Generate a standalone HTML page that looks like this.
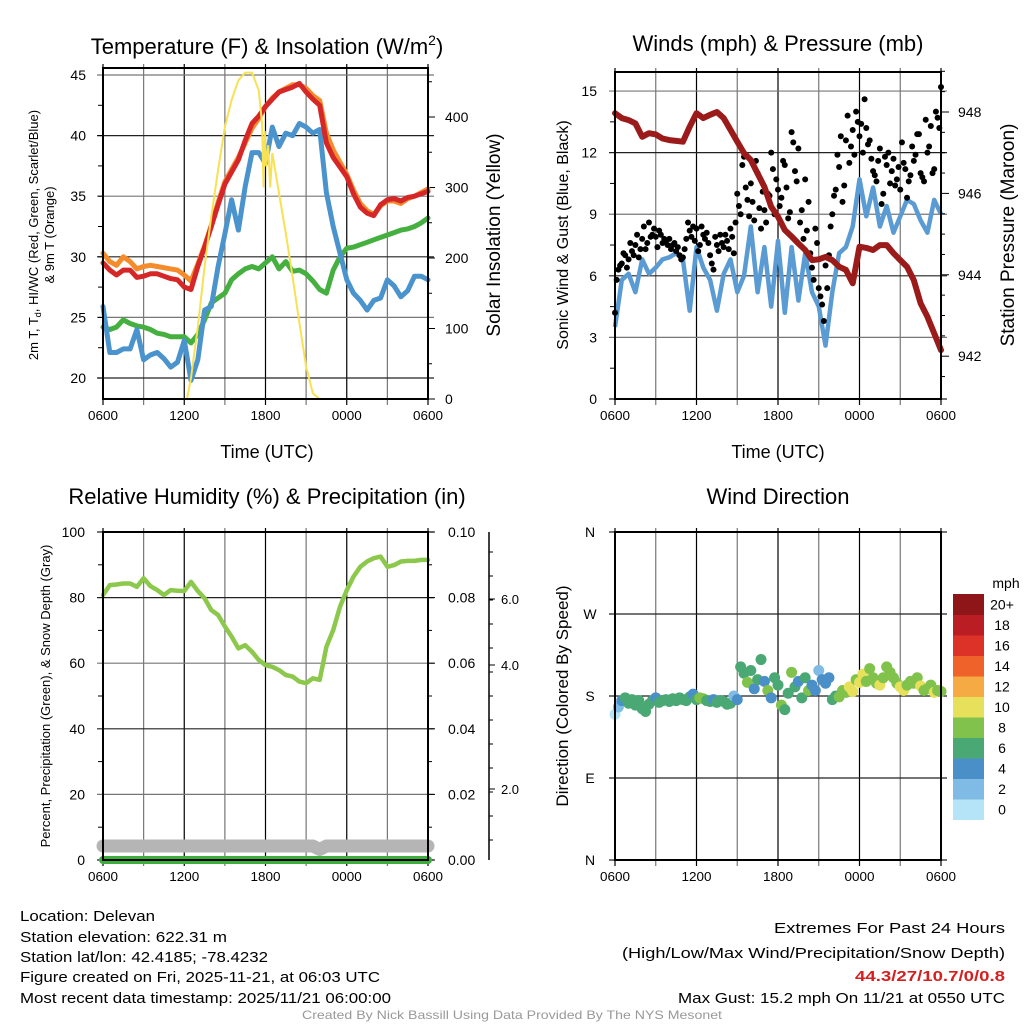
<!DOCTYPE html>
<html><head><meta charset="utf-8"><style>
html,body{margin:0;padding:0;background:#fff;}
svg{display:block;font-family:"Liberation Sans",sans-serif;}
</style></head><body>
<svg id="c" width="1024" height="1024" viewBox="0 0 1024 1024" xmlns="http://www.w3.org/2000/svg">
<g id="g1"></g>
<g id="g2"></g>
<g id="g3"></g>
<g id="g4"></g>
<g font-size="15" fill="#000">
<text x="20" y="921" textLength="135" lengthAdjust="spacingAndGlyphs">Location: Delevan</text>
<text x="20" y="942" textLength="207" lengthAdjust="spacingAndGlyphs">Station elevation: 622.31 m</text>
<text x="20" y="962" textLength="248" lengthAdjust="spacingAndGlyphs">Station lat/lon: 42.4185; -78.4232</text>
<text x="20" y="982" textLength="360" lengthAdjust="spacingAndGlyphs">Figure created on Fri, 2025-11-21, at 06:03 UTC</text>
<text x="20" y="1003" textLength="371" lengthAdjust="spacingAndGlyphs">Most recent data timestamp: 2025/11/21 06:00:00</text>
<text x="774" y="933" textLength="231" lengthAdjust="spacingAndGlyphs">Extremes For Past 24 Hours</text>
<text x="622" y="958" textLength="383" lengthAdjust="spacingAndGlyphs">(High/Low/Max Wind/Precipitation/Snow Depth)</text>
<text x="855" y="981" textLength="150" lengthAdjust="spacingAndGlyphs" fill="#d42020" font-weight="bold">44.3/27/10.7/0/0.8</text>
<text x="678" y="1003" textLength="327" lengthAdjust="spacingAndGlyphs">Max Gust: 15.2 mph On 11/21 at 0550 UTC</text>
<text x="302" y="1019" textLength="420" lengthAdjust="spacingAndGlyphs" font-size="12" fill="#999">Created By Nick Bassill Using Data Provided By The NYS Mesonet</text>
</g>
</svg>
<script>
// ---------- data ----------
const tempRed = [29.5,28.9,28.5,28.9,28.9,28.3,28.4,28.6,28.6,28.4,28.2,28.1,27.5,27.3,29.2,30.8,32.5,34.3,36.0,37.0,38.0,39.6,41.0,41.6,42.4,43.0,43.6,43.8,44.0,44.3,43.6,43.0,42.5,39.4,38.2,37.4,36.6,35.2,34.1,33.6,33.4,34.3,34.7,34.8,34.6,34.9,35.0,35.2,35.4];
const tempOrange = [30.3,29.6,29.3,30.0,29.6,29.0,29.2,29.3,29.2,29.1,29.0,28.9,28.5,28.0,29.4,30.9,32.6,34.5,36.2,37.2,38.2,39.4,40.6,41.4,42.4,43.1,43.6,43.9,44.2,44.2,43.9,43.3,42.9,40.2,38.8,37.8,36.8,35.5,34.4,33.8,33.5,34.2,34.6,34.6,34.4,34.8,35.0,35.3,35.6];
const dewBlue = [25.9,22.1,22.1,22.4,22.4,24.0,21.5,21.9,22.1,21.6,20.9,21.3,23.1,19.8,21.5,25.6,25.9,29.2,31.9,34.7,32.2,35.8,38.6,38.6,37.7,40.7,39.1,40.2,40.0,41.0,40.7,40.2,40.5,35.3,32.5,30.3,28.1,27.0,26.4,25.6,26.4,26.6,28.1,27.6,26.7,27.2,28.4,28.4,28.1];
const chillGreen = [24.2,24.0,24.2,24.8,24.5,24.3,24.2,24.0,23.7,23.6,23.4,23.4,23.4,22.9,23.6,24.8,26.2,26.6,27.0,28.1,28.6,29.0,29.2,29.0,29.5,30.0,29.0,29.6,28.8,28.9,28.6,28.0,27.3,27.0,28.9,30.0,30.7,30.8,31.0,31.2,31.4,31.6,31.8,32.0,32.2,32.3,32.5,32.8,33.2];
const solarHours = [0,6.2,6.5,7,7.5,8,8.5,9,9.5,10,10.5,11,11.5,11.75,11.85,11.95,12.05,12.2,12.35,12.5,13,13.5,14,14.5,15,15.5,16,24];
const solarValues = [0,0,30,102,188,259,325,386,424,452,463,463,438,390,300,380,330,360,300,349,292,235,173,108,46,8,0,0];
const windSpeed = [3.5,5.8,6.1,5.2,6.8,6.1,6.4,6.8,6.9,7.1,6.8,4.3,7.4,6.4,5.8,4.3,6.1,6.8,5.2,6.0,8.4,5.2,7.4,4.5,7.7,4.2,7.4,4.8,7.1,5.2,4.5,2.6,5.2,7.1,7.4,8.4,10.7,8.9,10.3,8.4,9.4,8.1,8.9,9.7,9.5,8.7,8.1,9.7,9.0];
const pressure = [947.97,947.85,947.8,947.72,947.39,947.48,947.45,947.35,947.31,947.29,947.27,947.64,947.97,947.85,947.93,948.0,947.85,947.56,947.27,946.99,946.82,946.49,946.16,945.67,945.43,945.1,944.94,944.77,944.61,944.36,944.38,944.44,944.36,944.2,944.12,943.79,944.69,944.66,944.61,944.73,944.73,944.53,944.36,944.2,943.87,943.3,942.97,942.56,942.15];
const gustA = [4.2,6.3,6.6,7.0,6.8,7.2,7.5,6.9,7.8,7.3,8.6,8.0,7.9,8.2,7.6,7.7,7.8,7.5,7.2,7.0,6.9,7.8,8.2,8.4,8.3,7.5,8.0,8.1,7.0,6.3,7.5,8.0,7.4,7.7,8.3,7.1,10.0,9.0,11.8,9.7,10.5,8.7,11.0,8.3,9.2,10.0,12.0,9.0,10.2,9.8,11.4,8.8,13.0,11.1,12.2,9.2,10.7,9.6,6.4,8.3,5.4,4.6,6.5,7.0,9.0,10.2,11.3,9.6,12.6,11.5,13.1,14.0,12.8,12.0,13.2,12.6,11.1,10.6,12.2,10.0,11.4,10.5,11.7,10.7,10.2,11.5,9.8,10.9,11.6,12.9,11.0,10.6,12.0,13.3,11.2,13.7,15.2];
const gustB = [5.8,6.5,7.1,6.4,7.6,7.0,8.0,7.3,8.4,7.6,7.9,8.3,7.4,8.0,7.8,7.5,7.3,7.6,7.4,6.8,7.3,8.6,7.9,7.7,7.2,8.4,7.8,7.6,6.6,7.9,7.2,7.6,8.0,7.3,7.9,8.6,9.4,11.4,10.3,8.9,9.6,11.6,9.3,10.1,8.6,9.9,11.2,10.7,9.4,11.6,10.3,9.1,12.5,10.6,8.6,7.8,8.2,7.1,5.8,7.6,5.0,3.8,5.4,8.4,9.9,11.9,12.8,10.4,13.8,12.3,11.9,13.5,13.4,14.6,12.4,11.7,10.9,11.6,9.5,11.8,12.0,11.1,10.4,11.3,12.5,11.2,10.6,12.3,11.9,12.9,10.8,13.6,12.3,11.0,14.0,13.2];
const relHum = [80.8,83.8,84.0,84.3,84.3,83.3,85.9,83.5,82.3,80.8,82.3,82.1,82.0,84.8,82.0,79.8,76.2,74.7,71.2,68.1,64.5,65.5,63.5,61.0,59.4,58.9,57.9,56.4,55.9,54.4,53.9,55.4,54.9,65.0,70.1,77.2,82.3,86.4,89.4,91.0,92.0,92.5,89.4,89.9,91.0,91.2,91.2,91.5,91.5];
const precip = [0,0,0,0,0,0,0,0,0,0,0,0,0,0,0,0,0,0,0,0,0,0,0,0,0,0,0,0,0,0,0,0,0,0,0,0,0,0,0,0,0,0,0,0,0,0,0,0,0];
const snowDepth = [0.8,0.8,0.8,0.8,0.8,0.8,0.8,0.8,0.8,0.8,0.8,0.8,0.8,0.8,0.8,0.8,0.8,0.8,0.8,0.8,0.8,0.8,0.8,0.8,0.8,0.8,0.8,0.8,0.8,0.8,0.8,0.8,0.6,0.8,0.8,0.8,0.8,0.8,0.8,0.8,0.8,0.8,0.8,0.8,0.8,0.8,0.8,0.8,0.8];
const windDir = [160,168,175,178,172,176,170,175,166,163,171,175,178,173,175,176,174,177,175,178,176,175,179,182,176,178,177,175,174,176,173,175,174,171,172,180,176,212,205,195,208,188,198,220,196,186,178,200,192,170,165,183,206,190,196,178,200,186,192,186,208,198,194,200,176,180,179,186,184,190,185,198,195,204,196,210,200,194,192,200,212,206,200,194,190,186,192,196,194,200,191,186,188,192,184,186,185];
const dirSpeed = [1,3,5,6,6,6,6,6,6,6,6,6,4,6,6,6,6,6,6,6,6,6,6,4,6,8,8,6,6,5,6,6,6,6,6,2,5,6,6,8,6,4,6,6,4,8,5,6,6,8,6,6,8,6,4,6,6,8,4,5,3,4,4,4,6,6,8,8,8,10,10,8,10,10,8,8,8,8,10,8,8,8,8,8,10,10,8,8,8,8,10,8,8,8,10,8,8];
const xTickLabels = ["0600","1200","1800","0000","0600"];
const tempTicks = [20,25,30,35,40,45];
const solarTicks = [0,100,200,300,400];
const windTicks = [0,3,6,9,12,15];
const presTicks = [942,944,946,948];
const rhTicks = [0,20,40,60,80,100];
const precTicks = ["0.00","0.02","0.04","0.06","0.08","0.10"];
const dirLabels = ["N","E","S","W","N"];
const cbLabels = ["0","2","4","6","8","10","12","14","16","18","20+"];
const cbColors = ["#b5e3f7","#7fbbe4","#4a8fc7","#4aa874","#80c24b","#e6e05a","#f5aa44","#ef6229","#dc3227","#bb1d25","#8e1518"];

// ---------- helpers ----------
const NS="http://www.w3.org/2000/svg";
function mk(parent,tag,attrs,txt){const e=document.createElementNS(NS,tag);for(const k in attrs)e.setAttribute(k,attrs[k]);if(txt!==undefined)e.textContent=txt;parent.appendChild(e);return e;}
const half=i=>i*0.5, quarter=i=>i*0.25;
function pathFrom(vals,hourFn,xf,yf){return vals.map((v,i)=>(i?'L':'M')+xf(hourFn(i)).toFixed(1)+' '+yf(v).toFixed(1)).join(' ');}
function frame(g,x0,x1,y0,y1){
  for(let h=0;h<=24;h+=3){const x=x0+(x1-x0)*h/24;
    const l=mk(g,'line',{x1:x,x2:x,y1:y0-4,y2:y1+6,stroke:h%6?'#777':'#000','stroke-width':1.2});
    
    }
  xTickLabels.forEach((t,i)=>{const x=x0+(x1-x0)*i/4;
    const e=mk(g,'text',{x:x,y:y1+21,'font-size':13,'text-anchor':'middle',textLength:30,lengthAdjust:'spacingAndGlyphs'},t);
    
    });
}
function hgrid(g,x0,x1,y,dark){const l=mk(g,'line',{x1:x0-6,x2:x1+6,y1:y,y2:y,stroke:dark?'#222':'#777','stroke-width':1.2});
  
  }
function box(g,x0,x1,y0,y1){const r=mk(g,'rect',{x:x0,y:y0,width:x1-x0,height:y1-y0,fill:'none',stroke:'#000','stroke-width':2});
  
  }
function label(g,x,y,t,size,anchor,name,rot){const a={x:x,y:y,'font-size':size,'text-anchor':anchor||'middle'};if(rot)a.transform='rotate(-90 '+x+' '+y+')';
  const e=mk(g,'text',a,t);
  
  return e;}

// ---------- Panel 1: temperature ----------
(function(){const g=document.getElementById('g1');const X0=103,X1=428,Y0=68,Y1=399;
 const xf=h=>X0+(X1-X0)*h/24, yT=t=>378-(t-20)*12.12, yS=w=>399-w*0.705;
 label(g,267,54,'',22,'middle','temp-chart-title').innerHTML='Temperature (F) &amp; Insolation (W/m<tspan font-size="14" dy="-9">2</tspan><tspan dy="9">)</tspan>';
 frame(g,X0,X1,Y0,Y1);
 tempTicks.forEach(t=>{hgrid(g,X0,X1,yT(t),t%10==0);label(g,86,yT(t)+5,String(t),14,'end','temp-tick-label');});
 for(let t=20;t<45;t+=2.5){mk(g,'line',{x1:X0-5,x2:X0,y1:yT(t),y2:yT(t),stroke:'#000'});}
 solarTicks.forEach(w=>{mk(g,'line',{x1:X1,x2:X1+7,y1:yS(w),y2:yS(w),stroke:'#000'});label(g,445,yS(w)+5,String(w),14,'start','solar-tick-label');});
 for(let w=50;w<470;w+=100){mk(g,'line',{x1:X1,x2:X1+4,y1:yS(w),y2:yS(w),stroke:'#000'});}
 const series=[[chillGreen,'#45b03f','green-heat-index-line'],[dewBlue,'#4b93cc','blue-dewpoint-line'],[tempOrange,'#f58c2c','orange-9m-temp-line'],[tempRed,'#d62728','red-2m-temp-line']];
 series.forEach(s=>{const p=mk(g,'path',{d:pathFrom(s[0],half,xf,yT),fill:'none',stroke:s[1],'stroke-width':5,'stroke-linejoin':'round','stroke-linecap':'round'});
  
  });
 const sp=mk(g,'path',{d:pathFrom(solarValues,i=>solarHours[i],xf,yS),fill:'none',stroke:'#f7e154','stroke-width':2});
 
 
 box(g,X0,X1,Y0,Y1);
 label(g,267,458,'Time (UTC)',18,'middle','x-axis-title');
 const t1=label(g,38,235,'',13,'middle','temp-y-axis-title',true);t1.innerHTML='2m T, T<tspan font-size="9" dy="3">d</tspan><tspan dy="-3">, HI/WC (Red, Green, Scarlet/Blue)</tspan>';
 label(g,54,235,'& 9m T (Orange)',13,'middle','temp-y-axis-title-2',true);
 label(g,500,235,'Solar Insolation (Yellow)',19,'middle','solar-y-axis-title',true);
})();

// ---------- Panel 2: wind & pressure ----------
(function(){const g=document.getElementById('g2');const X0=615,X1=941,Y0=72,Y1=399;
 const xf=h=>X0+(X1-X0)*h/24, yW=s=>399-s*20.53, yP=p=>112+(948-p)*40.7;
 label(g,778,51,'Winds (mph) & Pressure (mb)',22,'middle','wind-chart-title');
 frame(g,X0,X1,Y0,Y1);
 windTicks.forEach(s=>{hgrid(g,X0,X1,yW(s),s%6==0);label(g,597,yW(s)+5,String(s),14,'end','wind-tick-label');});
 for(let s=1.5;s<16;s+=3){mk(g,'line',{x1:X0-5,x2:X0,y1:yW(s),y2:yW(s),stroke:'#000'});}
 presTicks.forEach(p=>{mk(g,'line',{x1:X1,x2:X1+8,y1:yP(p),y2:yP(p),stroke:'#000'});label(g,958,yP(p)+5,String(p),14,'start','pressure-tick-label');});
 for(let p=941.5;p<=949;p+=0.5){if(p%2)mk(g,'line',{x1:X1,x2:X1+4,y1:yP(p),y2:yP(p),stroke:'#000'});}
 const wl=mk(g,'path',{d:pathFrom(windSpeed,half,xf,yW),fill:'none',stroke:'#5a9bd3','stroke-width':4.5,'stroke-linejoin':'round'});
 
 
 gustA.forEach((v,i)=>{const c=mk(g,'circle',{cx:xf(quarter(i)),cy:yW(v),r:3,fill:'#000'});
  
  });
 gustB.forEach((v,i)=>{const c=mk(g,'circle',{cx:xf(quarter(i)+0.125),cy:yW(v),r:3,fill:'#000'});
  
  });
 const pl=mk(g,'path',{d:pathFrom(pressure,half,xf,yP),fill:'none',stroke:'#9b1b1b','stroke-width':6,'stroke-linejoin':'round','stroke-linecap':'round'});
 
 
 box(g,X0,X1,Y0,Y1);
 label(g,778,458,'Time (UTC)',18,'middle','x-axis-title');
 label(g,568,235,'Sonic Wind & Gust (Blue, Black)',16,'middle','wind-y-axis-title',true);
 label(g,1014,235,'Station Pressure (Maroon)',19,'middle','pressure-y-axis-title',true);
})();

// ---------- Panel 3: RH ----------
(function(){const g=document.getElementById('g3');const X0=103,X1=428,Y0=532,Y1=860;
 const xf=h=>X0+(X1-X0)*h/24, yR=r=>860-r*3.28;
 label(g,267,504,'Relative Humidity (%) & Precipitation (in)',22,'middle','rh-chart-title');
 frame(g,X0,X1,Y0,Y1);
 rhTicks.forEach((r,i)=>{hgrid(g,X0,X1,yR(r),r%40==0||r==100);label(g,85,yR(r)+5,String(r),14,'end','rh-tick-label');
   mk(g,'line',{x1:X1,x2:X1+7,y1:yR(r),y2:yR(r),stroke:'#000'});label(g,448,yR(r)+5,precTicks[i],14,'start','precip-tick-label');});
 for(let r=10;r<100;r+=20){mk(g,'line',{x1:X0-5,x2:X0,y1:yR(r),y2:yR(r),stroke:'#000'});mk(g,'line',{x1:X1,x2:X1+4,y1:yR(r),y2:yR(r),stroke:'#000'});}
 const ax=mk(g,'line',{x1:489,x2:489,y1:532,y2:860,stroke:'#000','stroke-width':1.5});
 
 
 [[599,'6.0'],[665,'4.0'],[789,'2.0']].forEach(a=>{mk(g,'line',{x1:489,x2:495,y1:a[0],y2:a[0],stroke:'#000'});label(g,510,a[0]+5,a[1],13,'middle','snow-tick-label');});
 for(let y=552;y<860;y+=24){mk(g,'line',{x1:489,x2:493,y1:y,y2:y,stroke:'#000'});}
 const ySnow=d=>860-d*17.5;
 const sl=mk(g,'path',{d:pathFrom(snowDepth,half,xf,ySnow),fill:'none',stroke:'#b5b5b5','stroke-width':13,'stroke-linecap':'round','stroke-linejoin':'round'});
 
 
 const yPr=p=>860-p*3280;
 const pr=mk(g,'path',{d:pathFrom(precip,half,xf,yPr),fill:'none',stroke:'#3cae3c','stroke-width':8,'stroke-linecap':'round'});
 
 
 const rl=mk(g,'path',{d:pathFrom(relHum,half,xf,yR),fill:'none',stroke:'#8cc84b','stroke-width':4.5,'stroke-linejoin':'round','stroke-linecap':'round'});
 
 
 box(g,X0,X1,Y0,Y1);
 label(g,50,696,'Percent, Precipitation (Green), & Snow Depth (Gray)',13,'middle','rh-y-axis-title',true);
})();

// ---------- Panel 4: wind direction ----------
(function(){const g=document.getElementById('g4');const X0=615,X1=941,Y0=532,Y1=860;
 const xf=h=>X0+(X1-X0)*h/24, yD=d=>860-d*0.9111;
 label(g,778,504,'Wind Direction',22,'middle','direction-chart-title');
 frame(g,X0,X1,Y0,Y1);
 dirLabels.forEach((t,i)=>{hgrid(g,X0,X1,yD(i*90),true);label(g,590,yD(i*90)+5,t,14,'middle','direction-tick-label');});
 windDir.forEach((d,i)=>{const b=Math.min(10,Math.floor(dirSpeed[i]/2));
  const c=mk(g,'circle',{cx:xf(quarter(i)),cy:yD(d),r:5.5,fill:cbColors[b]});
  
  });
 box(g,X0,X1,Y0,Y1);
 label(g,568,696,'Direction (Colored By Speed)',17,'middle','direction-y-axis-title',true);
 const bh=20.5, top=594;
 cbColors.forEach((col,i)=>{const y=top+(10-i)*bh;
  const r=mk(g,'rect',{x:953,y:y,width:31,height:bh+0.5,fill:col});
  
  
  label(g,1002,y+bh/2+5,cbLabels[i],14,'middle','colorbar-label');});
 label(g,1006,588,'mph',14,'middle','colorbar-title');
})();
</script>
</body></html>
